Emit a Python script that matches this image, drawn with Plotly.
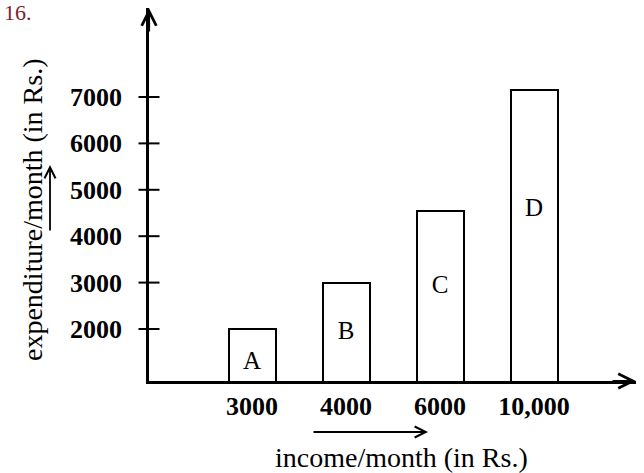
import plotly.graph_objects as go

# ---- data ----
bar_names = ["A", "B", "C", "D"]
income_labels = ["3000", "4000", "6000", "10,000"]
expenditure = [2000, 3000, 4550, 7150]
y_ticks = [2000, 3000, 4000, 5000, 6000, 7000]

FONT = "Liberation Serif"
W, H = 644, 473
ML, MR, MT, MB = 149, 8, 8, 92
PW, PH = W - ML - MR, H - MT - MB

x_pos = list(range(len(bar_names)))
x_range = [-1.096, 4.085]
y_range = [879, 8918]

def px_x(p):
    return (p - ML) / PW

def px_y(q):
    return (H - MB - q) / PH

fig = go.Figure()

fig.add_trace(go.Bar(
    x=x_pos, y=expenditure, width=0.5,
    marker=dict(color="white", line=dict(color="black", width=2)),
    showlegend=False, hoverinfo="skip",
))

# bar letters, placed about two thirds up each bar
fig.add_trace(go.Scatter(
    x=x_pos, y=[v * 0.64 for v in expenditure], mode="text",
    text=bar_names, textposition="middle center",
    textfont=dict(family=FONT, size=25, color="black"),
    showlegend=False, hoverinfo="skip",
))

# crossing tick marks on the y axis
fig.add_trace(go.Scatter(
    x=[x_range[0]] * len(y_ticks), y=y_ticks, mode="markers",
    marker=dict(symbol="line-ew-open", size=15, color="black",
                line=dict(color="black", width=2)),
    cliponaxis=False, showlegend=False, hoverinfo="skip",
))

TICKFONT = dict(family=FONT, size=26, color="black", weight="bold")

fig.update_layout(
    width=W, height=H,
    margin=dict(l=ML, r=MR, t=MT, b=MB),
    paper_bgcolor="white", plot_bgcolor="white",
    font=dict(family=FONT, color="black"),
    xaxis=dict(
        range=x_range, tickmode="array", tickvals=x_pos, ticktext=income_labels,
        showline=True, linecolor="black", linewidth=2.5, ticks="",
        showgrid=False, zeroline=False, ticklabelstandoff=0,
        tickfont=TICKFONT,
    ),
    yaxis=dict(
        range=y_range, tickmode="array", tickvals=y_ticks,
        ticktext=[str(v) for v in y_ticks],
        showline=True, linecolor="black", linewidth=2.5, ticks="",
        showgrid=False, zeroline=False, ticklabelstandoff=19,
        tickfont=TICKFONT,
    ),
    bargap=0,
)

ann = []
# axis arrowheads
ann.append(dict(xref="paper", yref="paper", x=0, y=1, ax=0, ay=25,
                showarrow=True, arrowhead=5, arrowsize=1.3, arrowwidth=2.2,
                arrowcolor="black", text=""))
ann.append(dict(xref="paper", yref="paper", x=1, y=0, ax=-25, ay=0,
                showarrow=True, arrowhead=5, arrowsize=1.3, arrowwidth=2.2,
                arrowcolor="black", text=""))
# axis titles
ann.append(dict(xref="paper", yref="paper", x=px_x(32), y=px_y(210),
                xanchor="center", yanchor="middle",
                text="expenditure/month (in Rs.)", textangle=-90, showarrow=False,
                font=dict(family=FONT, size=28, color="black")))
ann.append(dict(xref="paper", yref="paper", x=px_x(401), y=px_y(458),
                xanchor="center", yanchor="middle",
                text="income/month (in Rs.)", showarrow=False,
                font=dict(family=FONT, size=28, color="black")))
# small direction arrows next to titles
ann.append(dict(xref="paper", yref="paper", x=px_x(50), y=px_y(165), ax=0, ay=67,
                showarrow=True, arrowhead=5, arrowsize=1.2, arrowwidth=1.8,
                arrowcolor="black", text=""))
ann.append(dict(xref="paper", yref="paper", x=px_x(428), y=px_y(432), ax=-116, ay=0,
                showarrow=True, arrowhead=5, arrowsize=1.2, arrowwidth=1.8,
                arrowcolor="black", text=""))
# question number
ann.append(dict(xref="paper", yref="paper", x=px_x(2), y=px_y(-2),
                xanchor="left", yanchor="top", text="16.", showarrow=False,
                font=dict(family=FONT, size=22, color="#7a1f2b")))
fig.update_layout(annotations=ann)

fig.write_html("out.html", config={"displayModeBar": False},
               post_script="document.body.style.margin='0';document.body.style.padding='0';")
